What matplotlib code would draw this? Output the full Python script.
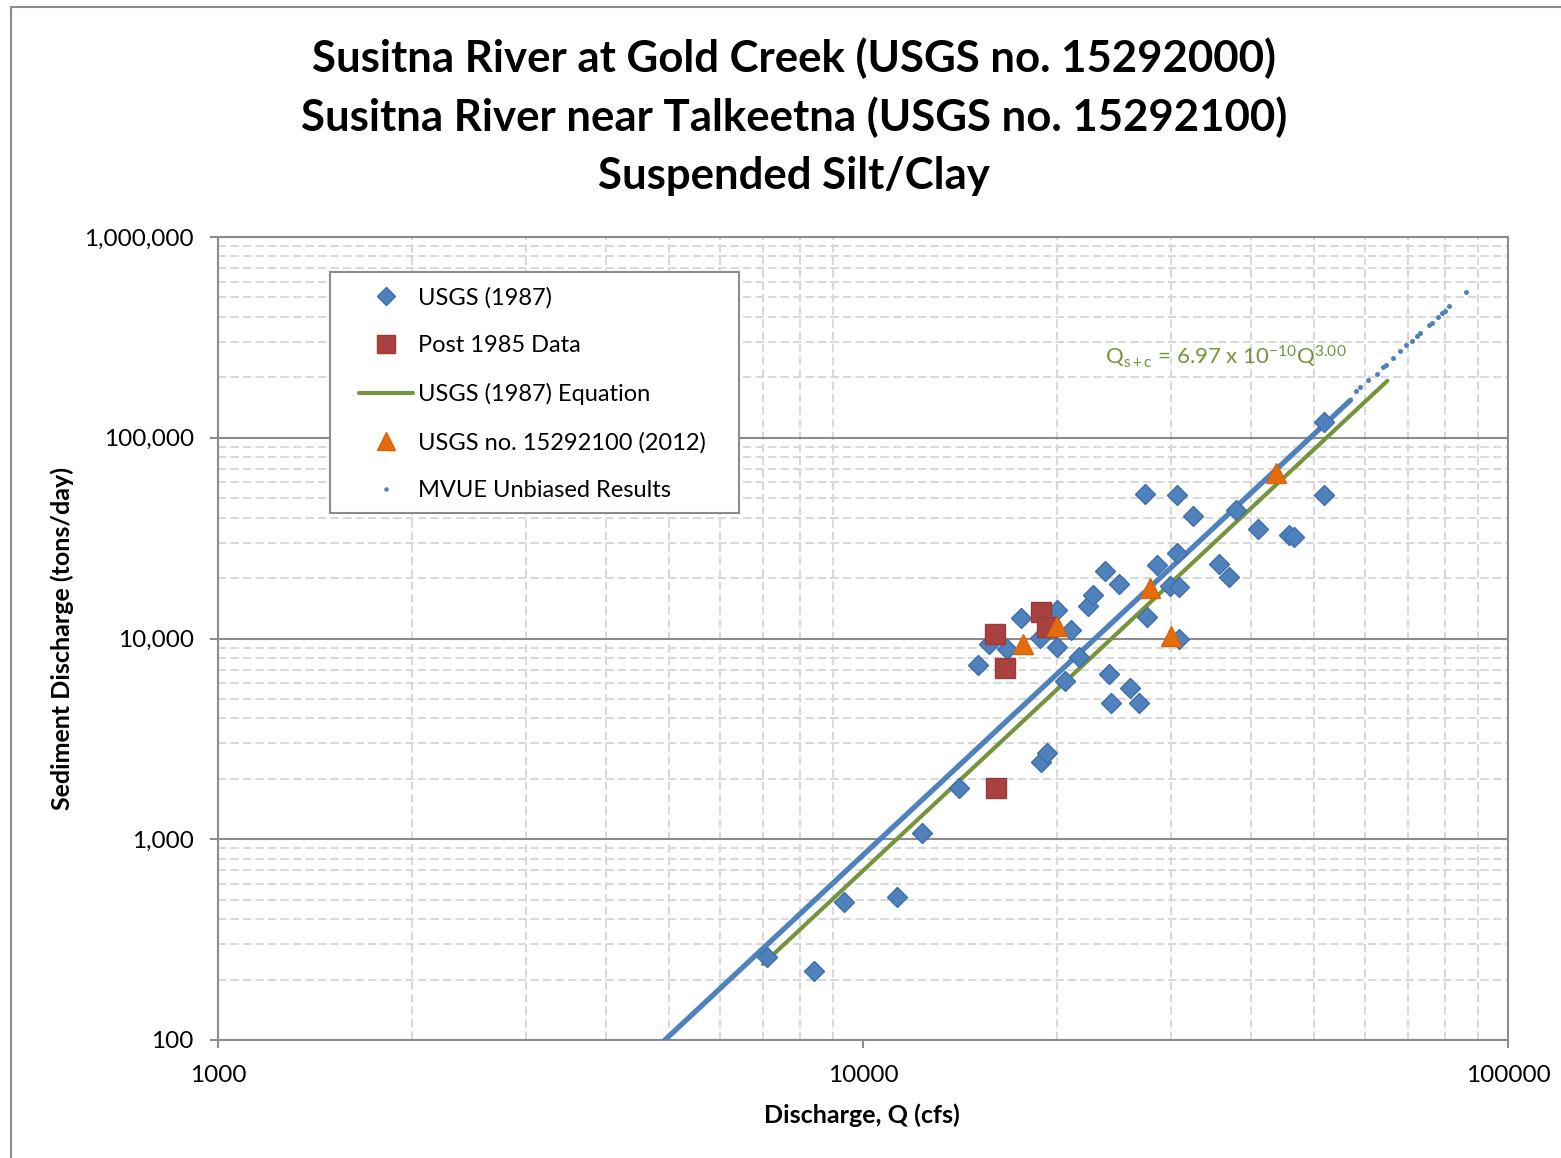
import numpy as np
import matplotlib
matplotlib.use("Agg")
from matplotlib import pyplot as plt
from matplotlib.ticker import LogLocator, FuncFormatter, NullFormatter
from matplotlib.lines import Line2D
from matplotlib.patches import Rectangle

plt.rcParams["font.family"] = ["Lato", "DejaVu Sans"]
plt.rcParams["mathtext.fontset"] = "custom"
plt.rcParams["mathtext.rm"] = "Lato"
plt.rcParams["mathtext.it"] = "Lato"

# data
titles = ["Susitna River at Gold Creek (USGS no. 15292000)",
          "Susitna River near Talkeetna (USGS no. 15292100)",
          "Suspended Silt/Clay"]

usgs87_q = [7100, 8400, 9340, 11300, 12350, 14100, 18900, 19300, 15100, 15700,
            16700, 17600, 18800, 20000, 20000, 21000, 21600, 20600, 22300, 22700,
            23700, 24900, 24100, 24200, 25900, 26800, 27400, 27600, 28600, 29900,
            30900, 30700, 30700, 30900, 32500, 35700, 36900, 37900, 40900, 45800,
            46500, 51900, 51900]
usgs87_qs = [259, 221, 487, 515, 1070, 1800, 2430, 2700, 7380, 9360,
             8890, 12650, 10020, 13870, 9100, 11020, 8060, 6170, 14520, 16480,
             21670, 18620, 6650, 4750, 5650, 4750, 52500, 12850, 23200, 18260,
             18100, 26550, 52000, 9910, 40900, 23400, 20300, 43700, 35100, 32800,
             31900, 52000, 120000]

post85_q = [16100, 16000, 16600, 18900, 19300]
post85_qs = [1800, 10500, 7100, 13600, 11450]

usgs2012_q = [17700, 20000, 27900, 30000, 43700]
usgs2012_qs = [9390, 11530, 17800, 10300, 66500]

eq_q = [7000, 65000]
eq_qs = [239, 192000]

# MVUE: dense run of points (reads as a solid band) + the sparse top end
mvue_band_q = [4930, 57000]
mvue_band_qs = [100, 154000]
mvue_q = [58100, 59000, 60700, 62600, 64100, 64700, 66300, 68000, 69500, 70900,
          72200, 73000, 75500, 76200, 77800, 78900, 79900, 81100, 86000]
mvue_qs = [171000, 178000, 194000, 208000, 224000, 230000, 249000, 270000, 290000, 303000,
           321000, 331000, 364000, 374000, 398000, 417000, 430000, 453000, 534000]

BLUE = "#4F81BD"
RED = "#A9423F"
ORANGE = "#E46C0A"
GREEN = "#77933C"
GRAY = "#8C8C8C"

W, H = 1561, 1158
fig = plt.figure(figsize=(W / 100, H / 100), dpi=100)

# outer chart border (left and top edges show)
fig.add_artist(Line2D([11 / W, 11 / W], [0, 1 - 7 / H], color=GRAY, lw=1.5))
fig.add_artist(Line2D([11 / W, 1], [1 - 7 / H, 1 - 7 / H], color=GRAY, lw=1.5))

ax = fig.add_axes([218 / W, 1 - 1040 / H, 1290 / W, 803 / H])
ax.set_xscale("log")
ax.set_yscale("log")
ax.set_xlim(1000, 100000)
ax.set_ylim(100, 1000000)

ax.plot(eq_q, eq_qs, color=GREEN, lw=3.0, solid_capstyle="round", zorder=2,
        label="USGS (1987) Equation")
ax.plot(mvue_band_q, mvue_band_qs, color=BLUE, lw=3.8, solid_capstyle="round", zorder=3)
ax.plot(mvue_q, mvue_qs, ls="none", marker="o", ms=3.6, color=BLUE, mec="none", zorder=3,
        label="MVUE Unbiased Results")
ax.plot(usgs87_q, usgs87_qs, ls="none", marker="D", ms=10, color=BLUE, mec="#3F6EA8",
        mew=1, zorder=4, label="USGS (1987)")
ax.plot(post85_q, post85_qs, ls="none", marker="s", ms=14, color=RED, mec="#983B38",
        mew=1, zorder=5, label="Post 1985 Data")
ax.plot(usgs2012_q, usgs2012_qs, ls="none", marker="^", ms=14, color=ORANGE, mec="#D9650A",
        mew=1, zorder=6, label="USGS no. 15292100 (2012)")

ax.text(1105 / W, 1 - 357 / H,
        r"Q$_{\mathrm{s+c}}$ = 6.97 x 10$^{\mathrm{-10}}$Q$^{\mathrm{3.00}}$",
        transform=fig.transFigure, color=GREEN, fontsize=16, va="center", ha="left")

# grid
ax.xaxis.set_minor_locator(LogLocator(base=10, subs=np.arange(2, 10)))
ax.yaxis.set_minor_locator(LogLocator(base=10, subs=np.arange(2, 10)))
ax.xaxis.set_minor_formatter(NullFormatter())
ax.yaxis.set_minor_formatter(NullFormatter())
ax.grid(which="minor", axis="both", color="#D9D9D9", lw=1.5, ls=(0, (4, 2)), zorder=0)
ax.grid(which="major", axis="y", color=GRAY, lw=1.5, ls="-", zorder=0)
ax.set_axisbelow(True)

ax.xaxis.set_major_formatter(FuncFormatter(lambda v, p: "{:.0f}".format(v)))
ax.yaxis.set_major_formatter(FuncFormatter(lambda v, p: "{:,.0f}".format(v)))
ax.tick_params(which="major", direction="out", length=6, width=1.5, color=GRAY,
               labelsize=17.5)
ax.tick_params(axis="y", pad=11.5)
ax.tick_params(axis="x", pad=12)
ax.tick_params(which="minor", length=0)
for s in ax.spines.values():
    s.set_color(GRAY)
    s.set_linewidth(1.5)

for i, t in enumerate(titles):
    fig.text(794 / W, 1 - (58 + 59 * i) / H, t, ha="center", va="center",
             fontsize=31.5, fontweight="bold")

fig.text(62 / W, 1 - 638 / H, "Sediment Discharge (tons/day)", rotation=90,
         ha="center", va="center", fontsize=18, fontweight="bold")
fig.text(862 / W, 1 - 1115 / H, "Discharge, Q (cfs)", ha="center", va="center",
         fontsize=18, fontweight="bold")

# legend box drawn separately: wide side padding, tight top/bottom
box = Rectangle((330 / W, 1 - 513 / H), 409 / W, 241 / H, transform=fig.transFigure,
                facecolor="white", edgecolor=GRAY, lw=1.5, zorder=9)
ax.add_patch(box)

h, l = ax.get_legend_handles_labels()
order = ["USGS (1987)", "Post 1985 Data", "USGS (1987) Equation",
         "USGS no. 15292100 (2012)", "MVUE Unbiased Results"]
hh = [h[l.index(o)] for o in order]
leg = ax.legend(hh, order, loc="upper left",
                bbox_to_anchor=(359 / W, 1 - 287 / H), bbox_transform=fig.transFigure,
                fontsize=17, frameon=False,
                handlelength=2.3, handletextpad=0.2, labelspacing=1.13,
                borderpad=0, borderaxespad=0, markerscale=0.9)
leg.set_zorder(10)

fig.savefig("out.png", dpi=100)
